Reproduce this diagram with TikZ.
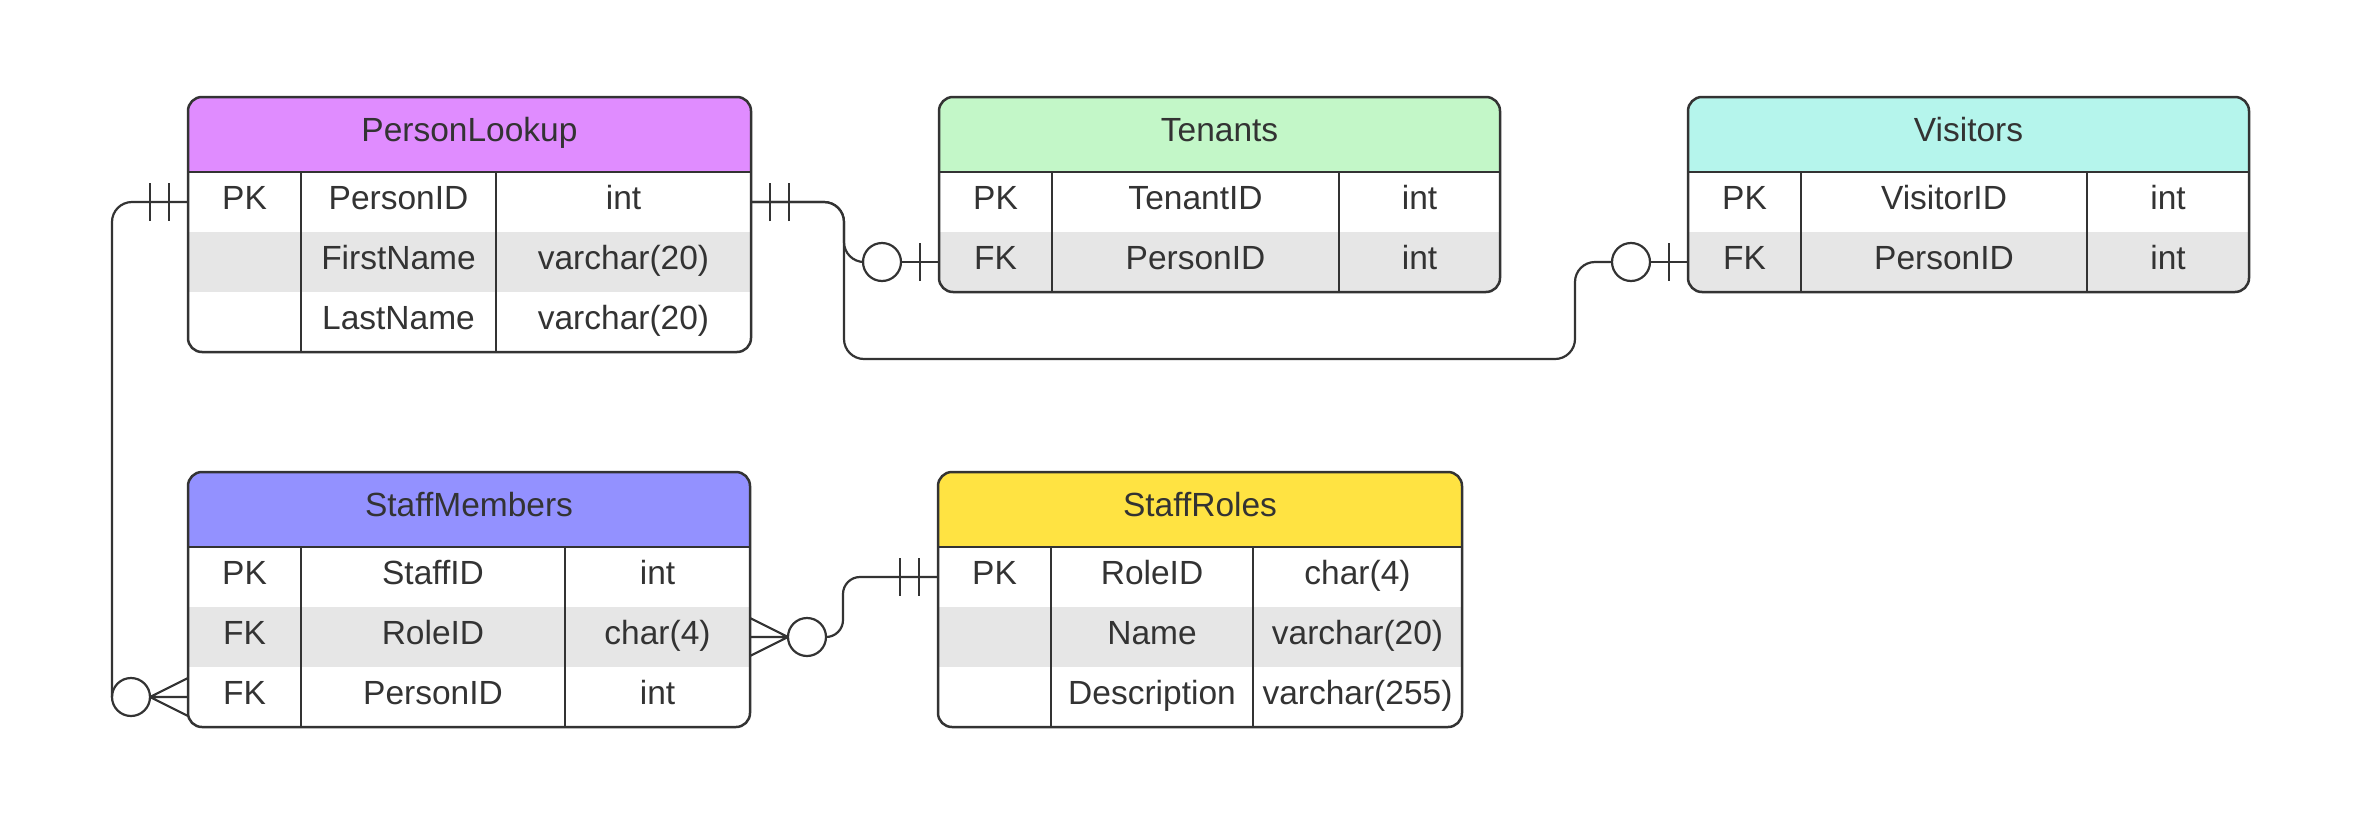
\documentclass[tikz,border=0pt]{standalone}
\usepackage{fontspec}
\setmainfont{Liberation Sans}
\definecolor{ink}{HTML}{333333}
\definecolor{rowgray}{HTML}{E6E6E6}
\definecolor{plfill}{HTML}{E08CFF}
\definecolor{tnfill}{HTML}{C3F7C8}
\definecolor{vifill}{HTML}{B5F5EC}
\definecolor{smfill}{HTML}{9391FF}
\definecolor{srfill}{HTML}{FFE342}
\begin{document}
\begin{tikzpicture}
[
    x=1pt, y=-1pt,
    font=\fontsize{33.5}{40}\selectfont,
    tablebox/.style={draw=ink, line width=2.5pt, rounded corners=14pt, anchor=north west, inner sep=0pt, outer sep=0pt},
    frame/.style={draw=ink, line width=2.5pt},
    cell/.style={text=ink, inner sep=0pt, text height=25pt, text depth=11pt},
    link/.style={draw=ink, line width=2.2pt},
    opt/.style={circle, draw=ink, line width=2.2pt, fill=white, minimum size=38pt, inner sep=0pt, outer sep=0pt},
    one/.pic={\draw[link] (-19,-19) -- (-19,19) (-38,-19) -- (-38,19);},
    zeroone/.pic={\draw[link] (0,0) -- (-38,0) (-19,-19) -- (-19,19); \node[opt] (-o) at (-57,0) {};},
    zeromany/.pic={\draw[link] (0,-19) -- (-38,0) -- (0,19) (0,0) -- (-38,0); \node[opt] (-o) at (-57,0) {};},
]
\path[use as bounding box, fill=white] (0,0) rectangle (2359,814);

% PersonLookup
\begin{scope}
  \clip[rounded corners=14pt] (188,97) rectangle (751,352);
  \fill[plfill] (188,97) rectangle (751,172);
  \fill[rowgray] (188,232) rectangle (751,292);
\end{scope}
\node[tablebox, minimum width=563pt, minimum height=255pt] (pl) at (188,97) {};
\draw[frame] (188,172) -- (751,172) (301,172) -- (301,352) (496,172) -- (496,352);
\node[cell] (pl-head) at (469.5,134.5) {PersonLookup};
\foreach \key/\fld/\typ [count=\row] in {PK/PersonID/int, /FirstName/varchar(20), /LastName/varchar(20)} {
  \node[cell] (pl-k\row) at (244.5,142+60*\row) {\key};
  \node[cell] (pl-f\row) at (398.5,142+60*\row) {\fld};
  \node[cell] (pl-t\row) at (623.5,142+60*\row) {\typ};
}

% Tenants
\begin{scope}
  \clip[rounded corners=14pt] (939,97) rectangle (1500,292);
  \fill[tnfill] (939,97) rectangle (1500,172);
  \fill[rowgray] (939,232) rectangle (1500,292);
\end{scope}
\node[tablebox, minimum width=561pt, minimum height=195pt] (tn) at (939,97) {};
\draw[frame] (939,172) -- (1500,172) (1052,172) -- (1052,292) (1339,172) -- (1339,292);
\node[cell] (tn-head) at (1219.5,134.5) {Tenants};
\foreach \key/\fld/\typ [count=\row] in {PK/TenantID/int, FK/PersonID/int} {
  \node[cell] (tn-k\row) at (995.5,142+60*\row) {\key};
  \node[cell] (tn-f\row) at (1195.5,142+60*\row) {\fld};
  \node[cell] (tn-t\row) at (1419.5,142+60*\row) {\typ};
}

% Visitors
\begin{scope}
  \clip[rounded corners=14pt] (1688,97) rectangle (2249,292);
  \fill[vifill] (1688,97) rectangle (2249,172);
  \fill[rowgray] (1688,232) rectangle (2249,292);
\end{scope}
\node[tablebox, minimum width=561pt, minimum height=195pt] (vi) at (1688,97) {};
\draw[frame] (1688,172) -- (2249,172) (1801,172) -- (1801,292) (2087,172) -- (2087,292);
\node[cell] (vi-head) at (1968.5,134.5) {Visitors};
\foreach \key/\fld/\typ [count=\row] in {PK/VisitorID/int, FK/PersonID/int} {
  \node[cell] (vi-k\row) at (1744.5,142+60*\row) {\key};
  \node[cell] (vi-f\row) at (1944,142+60*\row) {\fld};
  \node[cell] (vi-t\row) at (2168,142+60*\row) {\typ};
}

% StaffMembers
\begin{scope}
  \clip[rounded corners=14pt] (188,472) rectangle (750,727);
  \fill[smfill] (188,472) rectangle (750,547);
  \fill[rowgray] (188,607) rectangle (750,667);
\end{scope}
\node[tablebox, minimum width=562pt, minimum height=255pt] (sm) at (188,472) {};
\draw[frame] (188,547) -- (750,547) (301,547) -- (301,727) (565,547) -- (565,727);
\node[cell] (sm-head) at (469,509.5) {StaffMembers};
\foreach \key/\fld/\typ [count=\row] in {PK/StaffID/int, FK/RoleID/char(4), FK/PersonID/int} {
  \node[cell] (sm-k\row) at (244.5,517+60*\row) {\key};
  \node[cell] (sm-f\row) at (433,517+60*\row) {\fld};
  \node[cell] (sm-t\row) at (657.5,517+60*\row) {\typ};
}

% StaffRoles
\begin{scope}
  \clip[rounded corners=14pt] (938,472) rectangle (1462,727);
  \fill[srfill] (938,472) rectangle (1462,547);
  \fill[rowgray] (938,607) rectangle (1462,667);
\end{scope}
\node[tablebox, minimum width=524pt, minimum height=255pt] (sr) at (938,472) {};
\draw[frame] (938,547) -- (1462,547) (1051,547) -- (1051,727) (1253,547) -- (1253,727);
\node[cell] (sr-head) at (1200,509.5) {StaffRoles};
\foreach \key/\fld/\typ [count=\row] in {PK/RoleID/char(4), /Name/varchar(20), /Description/varchar(255)} {
  \node[cell] (sr-k\row) at (994.5,517+60*\row) {\key};
  \node[cell] (sr-f\row) at (1152,517+60*\row) {\fld};
  \node[cell] (sr-t\row) at (1357.5,517+60*\row) {\typ};
}

% relationships
\pic[rotate=180] at (pl.east |- pl-f1) {one};
\pic at (pl.west |- pl-f1) {one};
\pic (tn-end) at (tn.west |- tn-f2) {zeroone};
\pic (vi-end) at (vi.west |- vi-f2) {zeroone};
\pic (sm-end) at (sm.west |- sm-f3) {zeromany};
\pic[rotate=180] (rl-end) at (sm.east |- sm-f2) {zeromany};
\pic at (sr.west |- sr-f1) {one};
\coordinate (vi-bend) at (1575,359);
\draw[link, rounded corners=20pt] (pl.east |- pl-f1) -- ++(93,0) |- (tn-end-o.west);
\draw[link, rounded corners=20pt] (pl.east |- pl-f1) -- ++(93,0) |- (vi-bend) |- (vi-end-o.west);
\draw[link, rounded corners=20pt] (pl.west |- pl-f1) -| (sm-end-o.west);
\draw[link, rounded corners=17pt] (rl-end-o.east) -- ++(17,0) |- (sr.west |- sr-f1);
\end{tikzpicture}
\end{document}
